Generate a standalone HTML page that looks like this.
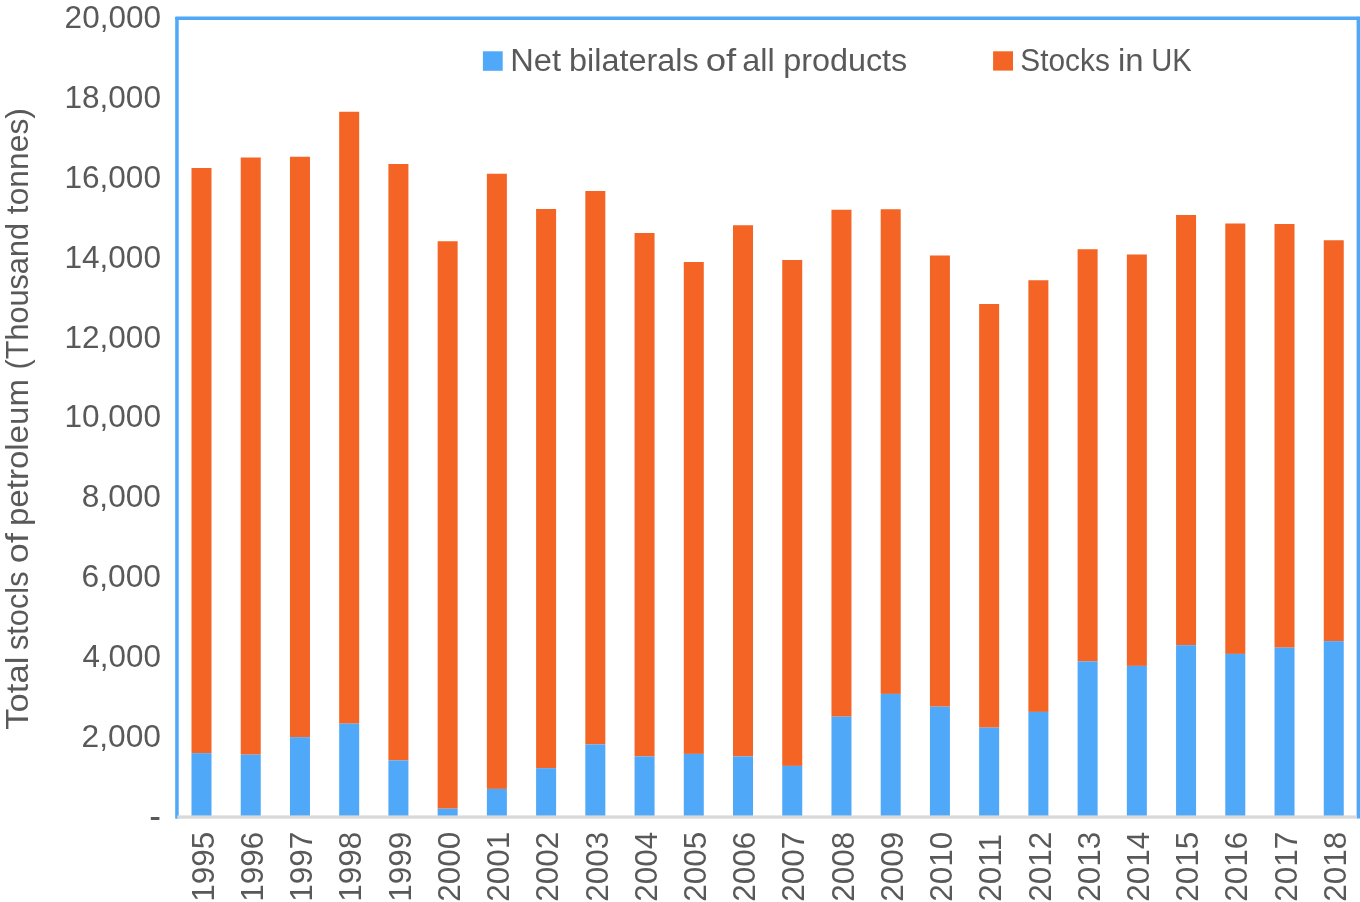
<!DOCTYPE html>
<html><head><meta charset="utf-8"><title>chart</title>
<style>
html,body{margin:0;padding:0;background:#fff;}
body{width:1360px;height:902px;overflow:hidden;font-family:"Liberation Sans",sans-serif;}
svg{display:block;}
.t{filter:grayscale(1);}
text{font-family:"Liberation Sans",sans-serif;fill:#595959;}
</style></head><body>
<svg width="1360" height="902" viewBox="0 0 1360 902">
<rect x="0" y="0" width="1360" height="902" fill="#ffffff"/>

<rect x="191.50" y="168.00" width="20.00" height="585.15" fill="#f46424"/>
<rect x="191.50" y="753.15" width="20.00" height="63.85" fill="#4fa8f8"/>
<rect x="240.73" y="157.50" width="20.00" height="597.15" fill="#f46424"/>
<rect x="240.73" y="754.65" width="20.00" height="62.35" fill="#4fa8f8"/>
<rect x="289.96" y="156.75" width="20.00" height="580.40" fill="#f46424"/>
<rect x="289.96" y="737.15" width="20.00" height="79.85" fill="#4fa8f8"/>
<rect x="339.18" y="111.75" width="20.00" height="611.90" fill="#f46424"/>
<rect x="339.18" y="723.65" width="20.00" height="93.35" fill="#4fa8f8"/>
<rect x="388.41" y="164.00" width="20.00" height="596.40" fill="#f46424"/>
<rect x="388.41" y="760.40" width="20.00" height="56.60" fill="#4fa8f8"/>
<rect x="437.64" y="241.25" width="20.00" height="567.40" fill="#f46424"/>
<rect x="437.64" y="808.65" width="20.00" height="8.35" fill="#4fa8f8"/>
<rect x="486.87" y="173.75" width="20.00" height="615.15" fill="#f46424"/>
<rect x="486.87" y="788.90" width="20.00" height="28.10" fill="#4fa8f8"/>
<rect x="536.10" y="209.00" width="20.00" height="559.15" fill="#f46424"/>
<rect x="536.10" y="768.15" width="20.00" height="48.85" fill="#4fa8f8"/>
<rect x="585.33" y="191.00" width="20.00" height="553.40" fill="#f46424"/>
<rect x="585.33" y="744.40" width="20.00" height="72.60" fill="#4fa8f8"/>
<rect x="634.55" y="233.00" width="20.00" height="523.40" fill="#f46424"/>
<rect x="634.55" y="756.40" width="20.00" height="60.60" fill="#4fa8f8"/>
<rect x="683.78" y="262.00" width="20.00" height="491.90" fill="#f46424"/>
<rect x="683.78" y="753.90" width="20.00" height="63.10" fill="#4fa8f8"/>
<rect x="733.01" y="225.25" width="20.00" height="531.15" fill="#f46424"/>
<rect x="733.01" y="756.40" width="20.00" height="60.60" fill="#4fa8f8"/>
<rect x="782.24" y="260.00" width="20.00" height="505.90" fill="#f46424"/>
<rect x="782.24" y="765.90" width="20.00" height="51.10" fill="#4fa8f8"/>
<rect x="831.47" y="209.75" width="20.00" height="506.90" fill="#f46424"/>
<rect x="831.47" y="716.65" width="20.00" height="100.35" fill="#4fa8f8"/>
<rect x="880.70" y="209.25" width="20.00" height="484.65" fill="#f46424"/>
<rect x="880.70" y="693.90" width="20.00" height="123.10" fill="#4fa8f8"/>
<rect x="929.92" y="255.50" width="20.00" height="451.15" fill="#f46424"/>
<rect x="929.92" y="706.65" width="20.00" height="110.35" fill="#4fa8f8"/>
<rect x="979.15" y="304.00" width="20.00" height="423.65" fill="#f46424"/>
<rect x="979.15" y="727.65" width="20.00" height="89.35" fill="#4fa8f8"/>
<rect x="1028.38" y="280.25" width="20.00" height="431.65" fill="#f46424"/>
<rect x="1028.38" y="711.90" width="20.00" height="105.10" fill="#4fa8f8"/>
<rect x="1077.61" y="249.25" width="20.00" height="412.15" fill="#f46424"/>
<rect x="1077.61" y="661.40" width="20.00" height="155.60" fill="#4fa8f8"/>
<rect x="1126.84" y="254.50" width="20.00" height="411.40" fill="#f46424"/>
<rect x="1126.84" y="665.90" width="20.00" height="151.10" fill="#4fa8f8"/>
<rect x="1176.07" y="215.00" width="20.00" height="430.15" fill="#f46424"/>
<rect x="1176.07" y="645.15" width="20.00" height="171.85" fill="#4fa8f8"/>
<rect x="1225.29" y="223.50" width="20.00" height="430.40" fill="#f46424"/>
<rect x="1225.29" y="653.90" width="20.00" height="163.10" fill="#4fa8f8"/>
<rect x="1274.52" y="224.00" width="20.00" height="423.65" fill="#f46424"/>
<rect x="1274.52" y="647.65" width="20.00" height="169.35" fill="#4fa8f8"/>
<rect x="1323.75" y="240.25" width="20.00" height="400.90" fill="#f46424"/>
<rect x="1323.75" y="641.15" width="20.00" height="175.85" fill="#4fa8f8"/>

<rect x="175.2" y="17" width="3.5" height="801.7" fill="#4fa8f8"/>
<rect x="175.2" y="16.5" width="1185" height="3.6" rx="0.8" fill="#4fa8f8"/>
<rect x="1356.6" y="16.8" width="4" height="801.7" fill="#4fa8f8"/>
<rect x="177.2" y="815.4" width="1179.5" height="3.3" fill="#d9d9d9"/>

<g class="t">
<text transform="translate(64.62,27.70) scale(1.0266,1)" font-size="30.70">20,000</text>
<text transform="translate(64.43,107.65) scale(1.0286,1)" font-size="30.70">18,000</text>
<text transform="translate(64.43,187.60) scale(1.0286,1)" font-size="30.70">16,000</text>
<text transform="translate(64.43,267.55) scale(1.0286,1)" font-size="30.70">14,000</text>
<text transform="translate(64.43,347.50) scale(1.0286,1)" font-size="30.70">12,000</text>
<text transform="translate(64.43,427.45) scale(1.0286,1)" font-size="30.70">10,000</text>
<text transform="translate(81.78,507.40) scale(1.0310,1)" font-size="30.70">8,000</text>
<text transform="translate(81.61,587.35) scale(1.0332,1)" font-size="30.70">6,000</text>
<text transform="translate(82.42,667.30) scale(1.0226,1)" font-size="30.70">4,000</text>
<text transform="translate(81.61,747.25) scale(1.0332,1)" font-size="30.70">2,000</text>
<rect x="150.8" y="817" width="8.6" height="3" fill="#595959"/>

<text transform="translate(213.70,901.65) rotate(-90) scale(0.9925,1)" font-size="31.70">1995</text>
<text transform="translate(262.93,901.65) rotate(-90) scale(0.9925,1)" font-size="31.70">1996</text>
<text transform="translate(312.16,901.65) rotate(-90) scale(0.9925,1)" font-size="31.70">1997</text>
<text transform="translate(361.38,901.65) rotate(-90) scale(0.9925,1)" font-size="31.70">1998</text>
<text transform="translate(410.61,901.65) rotate(-90) scale(0.9925,1)" font-size="31.70">1999</text>
<text transform="translate(459.84,901.65) rotate(-90) scale(0.9925,1)" font-size="31.70">2000</text>
<text transform="translate(509.07,901.65) rotate(-90) scale(0.9925,1)" font-size="31.70">2001</text>
<text transform="translate(558.30,901.65) rotate(-90) scale(0.9925,1)" font-size="31.70">2002</text>
<text transform="translate(607.53,901.65) rotate(-90) scale(0.9925,1)" font-size="31.70">2003</text>
<text transform="translate(656.75,901.65) rotate(-90) scale(0.9925,1)" font-size="31.70">2004</text>
<text transform="translate(705.98,901.65) rotate(-90) scale(0.9925,1)" font-size="31.70">2005</text>
<text transform="translate(755.21,901.65) rotate(-90) scale(0.9925,1)" font-size="31.70">2006</text>
<text transform="translate(804.44,901.65) rotate(-90) scale(0.9925,1)" font-size="31.70">2007</text>
<text transform="translate(853.67,901.65) rotate(-90) scale(0.9925,1)" font-size="31.70">2008</text>
<text transform="translate(902.90,901.65) rotate(-90) scale(0.9925,1)" font-size="31.70">2009</text>
<text transform="translate(952.12,901.65) rotate(-90) scale(0.9925,1)" font-size="31.70">2010</text>
<text transform="translate(1001.35,901.65) rotate(-90) scale(0.9925,1)" font-size="31.70">2011</text>
<text transform="translate(1050.58,901.65) rotate(-90) scale(0.9925,1)" font-size="31.70">2012</text>
<text transform="translate(1099.81,901.65) rotate(-90) scale(0.9925,1)" font-size="31.70">2013</text>
<text transform="translate(1149.04,901.65) rotate(-90) scale(0.9925,1)" font-size="31.70">2014</text>
<text transform="translate(1198.27,901.65) rotate(-90) scale(0.9925,1)" font-size="31.70">2015</text>
<text transform="translate(1247.49,901.65) rotate(-90) scale(0.9925,1)" font-size="31.70">2016</text>
<text transform="translate(1296.72,901.65) rotate(-90) scale(0.9925,1)" font-size="31.70">2017</text>
<text transform="translate(1345.95,901.65) rotate(-90) scale(0.9925,1)" font-size="31.70">2018</text>

<text transform="translate(28.00,729.66) rotate(-90) scale(1.1256,1)" font-size="30.70">Total</text>
<text transform="translate(28.00,650.02) rotate(-90) scale(1.0007,1)" font-size="30.70">stocls</text>
<text transform="translate(28.00,563.25) rotate(-90) scale(1.1800,1)" font-size="30.70">of</text>
<text transform="translate(28.00,526.05) rotate(-90) scale(1.0768,1)" font-size="30.70">petroleum</text>
<text transform="translate(28.00,369.44) rotate(-90) scale(0.9978,1)" font-size="30.70">(Thousand</text>
<text transform="translate(28.00,214.18) rotate(-90) scale(1.0362,1)" font-size="30.70">tonnes)</text>

<text transform="translate(510.29,70.80) scale(1.0602,1)" font-size="30.80">Net</text>
<text transform="translate(569.09,70.80) scale(1.0523,1)" font-size="30.80">bilaterals</text>
<text transform="translate(705.64,70.80) scale(1.1884,1)" font-size="30.80">of</text>
<text transform="translate(742.34,70.80) scale(1.0506,1)" font-size="30.80">all</text>
<text transform="translate(783.20,70.80) scale(1.0510,1)" font-size="30.80">products</text>
<text transform="translate(1020.26,70.60) scale(0.9696,1)" font-size="30.80">Stocks</text>
<text transform="translate(1118.06,70.60) scale(1.0689,1)" font-size="30.80">in</text>
<text transform="translate(1151.31,70.60) scale(0.9466,1)" font-size="30.80">UK</text>
</g>
<rect x="482.9" y="51.3" width="19.8" height="19.5" fill="#4fa8f8"/>
<rect x="993.1" y="51.3" width="19.9" height="19.3" fill="#f46424"/>
</svg></body></html>
